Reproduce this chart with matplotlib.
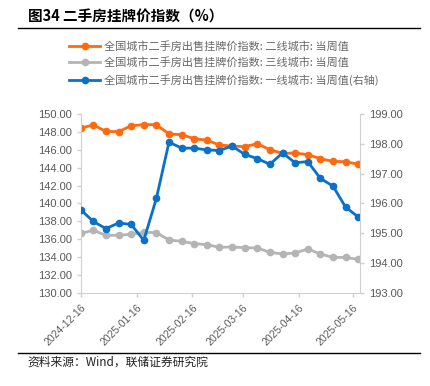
import datetime as dt

import matplotlib
matplotlib.use("Agg")
import matplotlib.pyplot as plt
import matplotlib.dates as mdates
from matplotlib.lines import Line2D

plt.rcParams['font.family'] = ['Noto Sans CJK SC', 'DejaVu Sans']

# weekly dates, 2024-12-16 .. 2025-05-19
start = dt.date(2024, 12, 16)
dates = [start + dt.timedelta(days=7 * i) for i in range(23)]

tier2 = [148.40, 148.74, 148.03, 148.00, 148.66, 148.78, 148.78, 147.74, 147.66, 147.22, 147.05,
         146.51, 146.40, 146.33, 146.66, 145.99, 145.58, 145.62, 145.44, 144.99, 144.69, 144.66, 144.36]
tier3 = [136.68, 137.01, 136.46, 136.46, 136.57, 136.79, 136.75, 135.94, 135.79, 135.53, 135.42,
         135.12, 135.16, 135.08, 135.05, 134.56, 134.38, 134.49, 134.94, 134.38, 134.00, 134.00, 133.78]
tier1 = [195.79, 195.40, 195.16, 195.35, 195.30, 194.77, 196.17, 198.05, 197.85, 197.85, 197.79,
         197.77, 197.92, 197.64, 197.50, 197.31, 197.69, 197.36, 197.40, 196.84, 196.58, 195.88, 195.55]

labels = [
    "全国城市二手房出售挂牌价指数: 二线城市: 当周值",
    "全国城市二手房出售挂牌价指数: 三线城市: 当周值",
    "全国城市二手房出售挂牌价指数: 一线城市: 当周值(右轴)",
]
tick_dates = [dt.date(2024, 12, 16), dt.date(2025, 1, 16), dt.date(2025, 2, 16),
              dt.date(2025, 3, 16), dt.date(2025, 4, 16), dt.date(2025, 5, 16)]

ORANGE = "#ff6a0e"
GRAY = "#b4b4b4"
BLUE = "#0a70c8"
SPINE = "#d0d0d0"
TXT = "#595959"

W, H = 430, 386
fig = plt.figure(figsize=(W / 100, H / 100), dpi=100)
ax = fig.add_axes([80.7 / W, 1 - 293.3 / H, (360 - 80.7) / W, (293.3 - 113.7) / H])
ax2 = ax.twinx()

style = dict(lw=2, marker="o", ms=4.5)
l1, = ax.plot(dates, tier2, color=ORANGE, label=labels[0], **style)
l2, = ax.plot(dates, tier3, color=GRAY, label=labels[1], **style)
l3, = ax2.plot(dates, tier1, color=BLUE, label=labels[2], **style)

ax.set_ylim(130, 150)
ax.set_yticks(range(130, 151, 2))
ax2.set_ylim(193, 199)
ax2.set_yticks(range(193, 200))
ax.set_xlim(dt.date(2024, 12, 16), dt.date(2025, 5, 20))
ax.set_xticks(tick_dates)
ax.xaxis.set_major_formatter(mdates.DateFormatter("%Y-%m-%d"))

for a in (ax, ax2):
    for s in a.spines.values():
        s.set_color(SPINE)
    a.spines["top"].set_visible(False)
    a.tick_params(colors=SPINE, labelcolor=TXT, length=3, width=1)
ax.spines["right"].set_visible(False)
ax2.spines["left"].set_visible(False)
ax2.spines["bottom"].set_visible(False)

for lab in ax.get_yticklabels() + ax2.get_yticklabels():
    lab.set_fontfamily("Liberation Sans")
    lab.set_fontsize(8)
ax.yaxis.set_major_formatter(matplotlib.ticker.FormatStrFormatter("%.2f"))
ax2.yaxis.set_major_formatter(matplotlib.ticker.FormatStrFormatter("%.2f"))
for lab in ax.get_xticklabels():
    lab.set_fontfamily("Liberation Sans")
    lab.set_fontsize(7.5)
    lab.set_rotation(45)
    lab.set_ha("right")
    lab.set_rotation_mode("anchor")

fig.legend(handles=[l1, l2, l3], loc="upper left", bbox_to_anchor=(69 / W, 1 - 41 / H),
           frameon=False, fontsize=8, labelcolor="#6a6a6a", handlelength=2.8,
           handletextpad=0.35, labelspacing=0.5, borderaxespad=0, borderpad=0)

fig.text(28 / W, 1 - 17 / H, "图34 二手房挂牌价指数（%）", fontsize=10.5, fontweight="bold",
         va="center", ha="left")
fig.add_artist(Line2D([18 / W, 420 / W], [1 - 28 / H, 1 - 28 / H], color="black", lw=1))
fig.add_artist(Line2D([18 / W, 420 / W], [1 - 352.7 / H, 1 - 352.7 / H], color="black", lw=1))
fig.text(27 / W, 1 - 362 / H, "资料来源：Wind，联储证券研究院", fontsize=8.5, va="center", ha="left",
         color="#222222")

fig.savefig("out.png", dpi=100)
